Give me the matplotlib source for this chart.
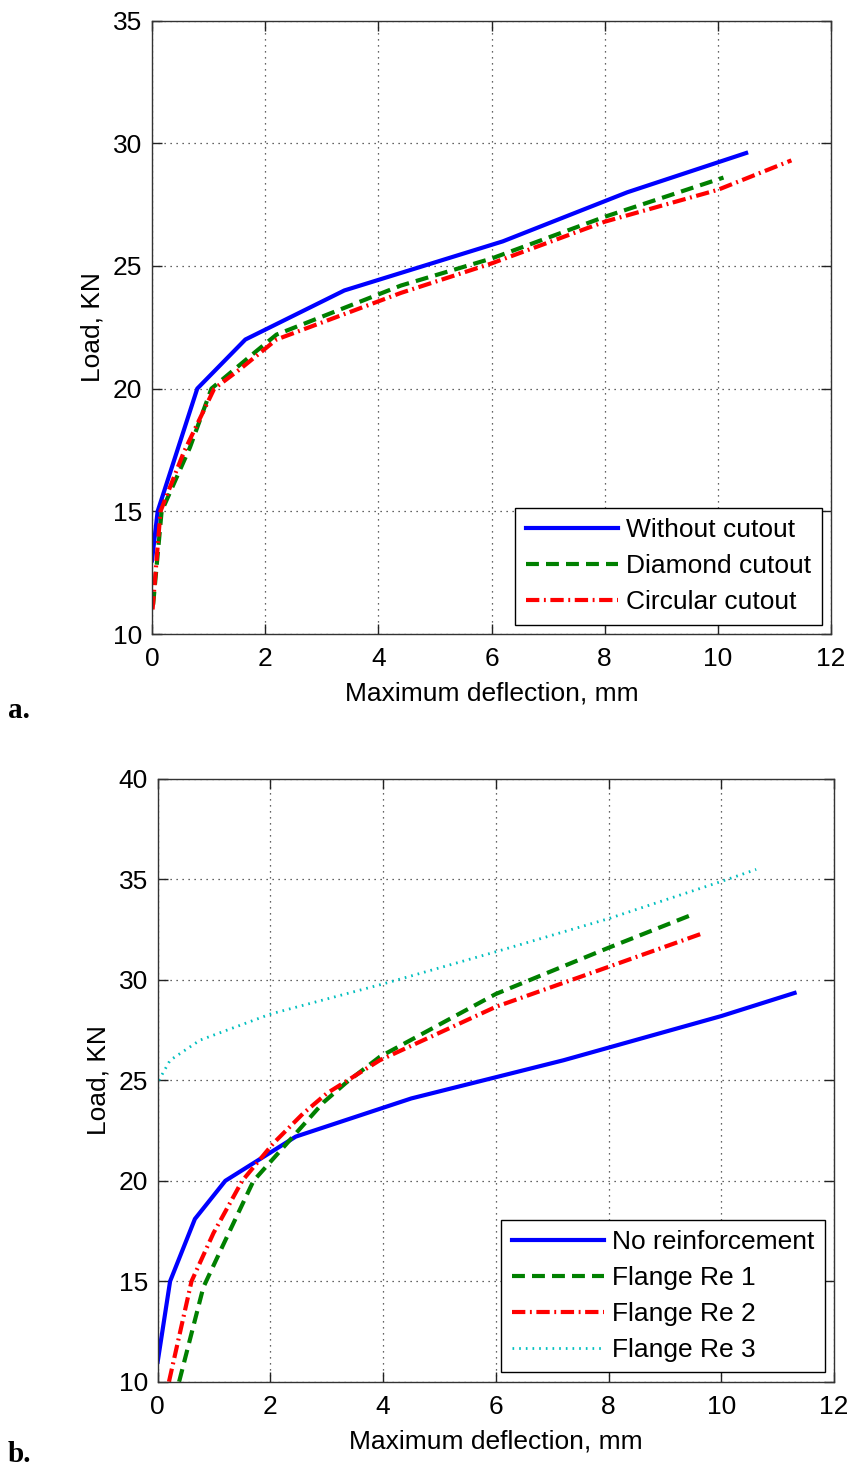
import matplotlib
matplotlib.use("Agg")
import matplotlib.pyplot as plt

plt.rcParams['font.family'] = ['Liberation Sans', 'DejaVu Sans']

# ---- Panel a data ----
wo_x = [0, 0.1, 0.8, 1.65, 3.4, 6.2, 8.4, 10.5]
wo_y = [13, 15, 20, 22, 24, 26, 28, 29.6]
dia_x = [0.02, 0.17, 0.67, 1.05, 1.83, 2.2, 4.4, 6.0, 8.0, 10.1]
dia_y = [11.2, 15, 17.6, 20, 21.5, 22.2, 24.2, 25.3, 27.0, 28.6]
cir_x = [0.01, 0.15, 0.56, 1.1, 1.56, 2.2, 4.4, 6.0, 8.0, 10.0, 11.3]
cir_y = [11, 15, 17.4, 20, 20.8, 22.0, 23.9, 25.1, 26.8, 28.1, 29.3]
labels_a = ["Without cutout", "Diamond cutout", "Circular cutout"]

# ---- Panel b data ----
no_x = [0, 0.22, 0.66, 1.2, 2.45, 4.5, 7.2, 10.0, 11.3]
no_y = [11, 15, 18.1, 20, 22.2, 24.1, 26, 28.2, 29.35]
re1_x = [0.38, 0.81, 1.16, 1.7, 2.4, 2.94, 3.35, 3.94, 6.0, 8.0, 9.44]
re1_y = [10, 14.7, 16.8, 20, 22.2, 23.9, 24.9, 26.17, 29.3, 31.6, 33.2]
re2_x = [0.2, 0.6, 0.99, 1.5, 2.05, 2.58, 3.0, 3.94, 6.0, 8.0, 9.65]
re2_y = [10, 15, 17.4, 20, 21.86, 23.35, 24.35, 26.0, 28.66, 30.65, 32.3]
re3_x = [0.02, 0.22, 0.75, 2.0, 4.0, 6.0, 8.0, 10.0, 10.62]
re3_y = [25, 26, 27, 28.3, 29.8, 31.4, 33.05, 34.9, 35.5]
labels_b = ["No reinforcement", "Flange Re 1", "Flange Re 2", "Flange Re 3"]

x_ticks = [0, 2, 4, 6, 8, 10, 12]
ya_ticks = [10, 15, 20, 25, 30, 35]
yb_ticks = [10, 15, 20, 25, 30, 35, 40]

FS = 19
LW = 3.0

fig = plt.figure(figsize=(8.49, 14.69), dpi=100)
ax1 = fig.add_axes([152/849, 1 - 634/1469, 679/849, 613.5/1469])
ax2 = fig.add_axes([157.7/849, 1 - 1381.7/1469, 676.3/849, 602.7/1469])

dash = (3.1, 1.7)
dashdot = (3.2, 1.1, 0.45, 1.1)
dot = (0.6, 1.8)


def style(ax, yticks):
    ax.set_xlim(0, 12)
    ax.set_ylim(yticks[0], yticks[-1])
    ax.set_xticks(x_ticks)
    ax.set_yticks(yticks)
    ax.grid(True, color='#333333', linestyle=(0, (1, 3.8)), linewidth=0.9)
    ax.tick_params(direction='in', length=7, width=1, top=True, right=True,
                   labelsize=FS, colors='#222222', labelcolor='black')
    ax.tick_params(axis='x', pad=9.5)
    ax.tick_params(axis='y', pad=7)
    for s in ax.spines.values():
        s.set_color('#333333')
        s.set_linewidth(1.0)
    ax.set_xlabel("Maximum deflection, mm", fontsize=FS, labelpad=7.5)
    ax.set_ylabel("Load, KN", fontsize=FS, labelpad=6)


def legend(ax):
    leg = ax.legend(loc='lower right', fontsize=FS, fancybox=False, framealpha=1,
                    edgecolor='black', handlelength=3.5, handletextpad=0.3,
                    labelspacing=0.45, borderpad=0.4, borderaxespad=0.35)
    leg.get_frame().set_linewidth(1.0)
    return leg


ax1.plot(wo_x, wo_y, color='#0000ff', lw=LW, label=labels_a[0])
ax1.plot(dia_x, dia_y, color='#008000', lw=LW, linestyle=(0, dash), label=labels_a[1])
ax1.plot(cir_x, cir_y, color='#ff0000', lw=LW, linestyle=(0, dashdot), label=labels_a[2])
style(ax1, ya_ticks)
legend(ax1)

ax2.plot(no_x, no_y, color='#0000ff', lw=LW, label=labels_b[0])
ax2.plot(re1_x, re1_y, color='#008000', lw=LW, linestyle=(0, dash), label=labels_b[1])
ax2.plot(re2_x, re2_y, color='#ff0000', lw=LW, linestyle=(0, dashdot), label=labels_b[2])
ax2.plot(re3_x, re3_y, color='#00bfbf', lw=2.0, linestyle=(0, dot), label=labels_b[3])
style(ax2, yb_ticks)
legend(ax2)

fig.text(8/849, 1 - 718/1469, "a.", fontsize=21, fontweight='bold',
         family=['Liberation Serif', 'DejaVu Serif'], ha='left', va='baseline')
fig.text(8/849, 1 - 1462/1469, "b.", fontsize=21, fontweight='bold',
         family=['Liberation Serif', 'DejaVu Serif'], ha='left', va='baseline')

fig.savefig("out.png", dpi=100)
